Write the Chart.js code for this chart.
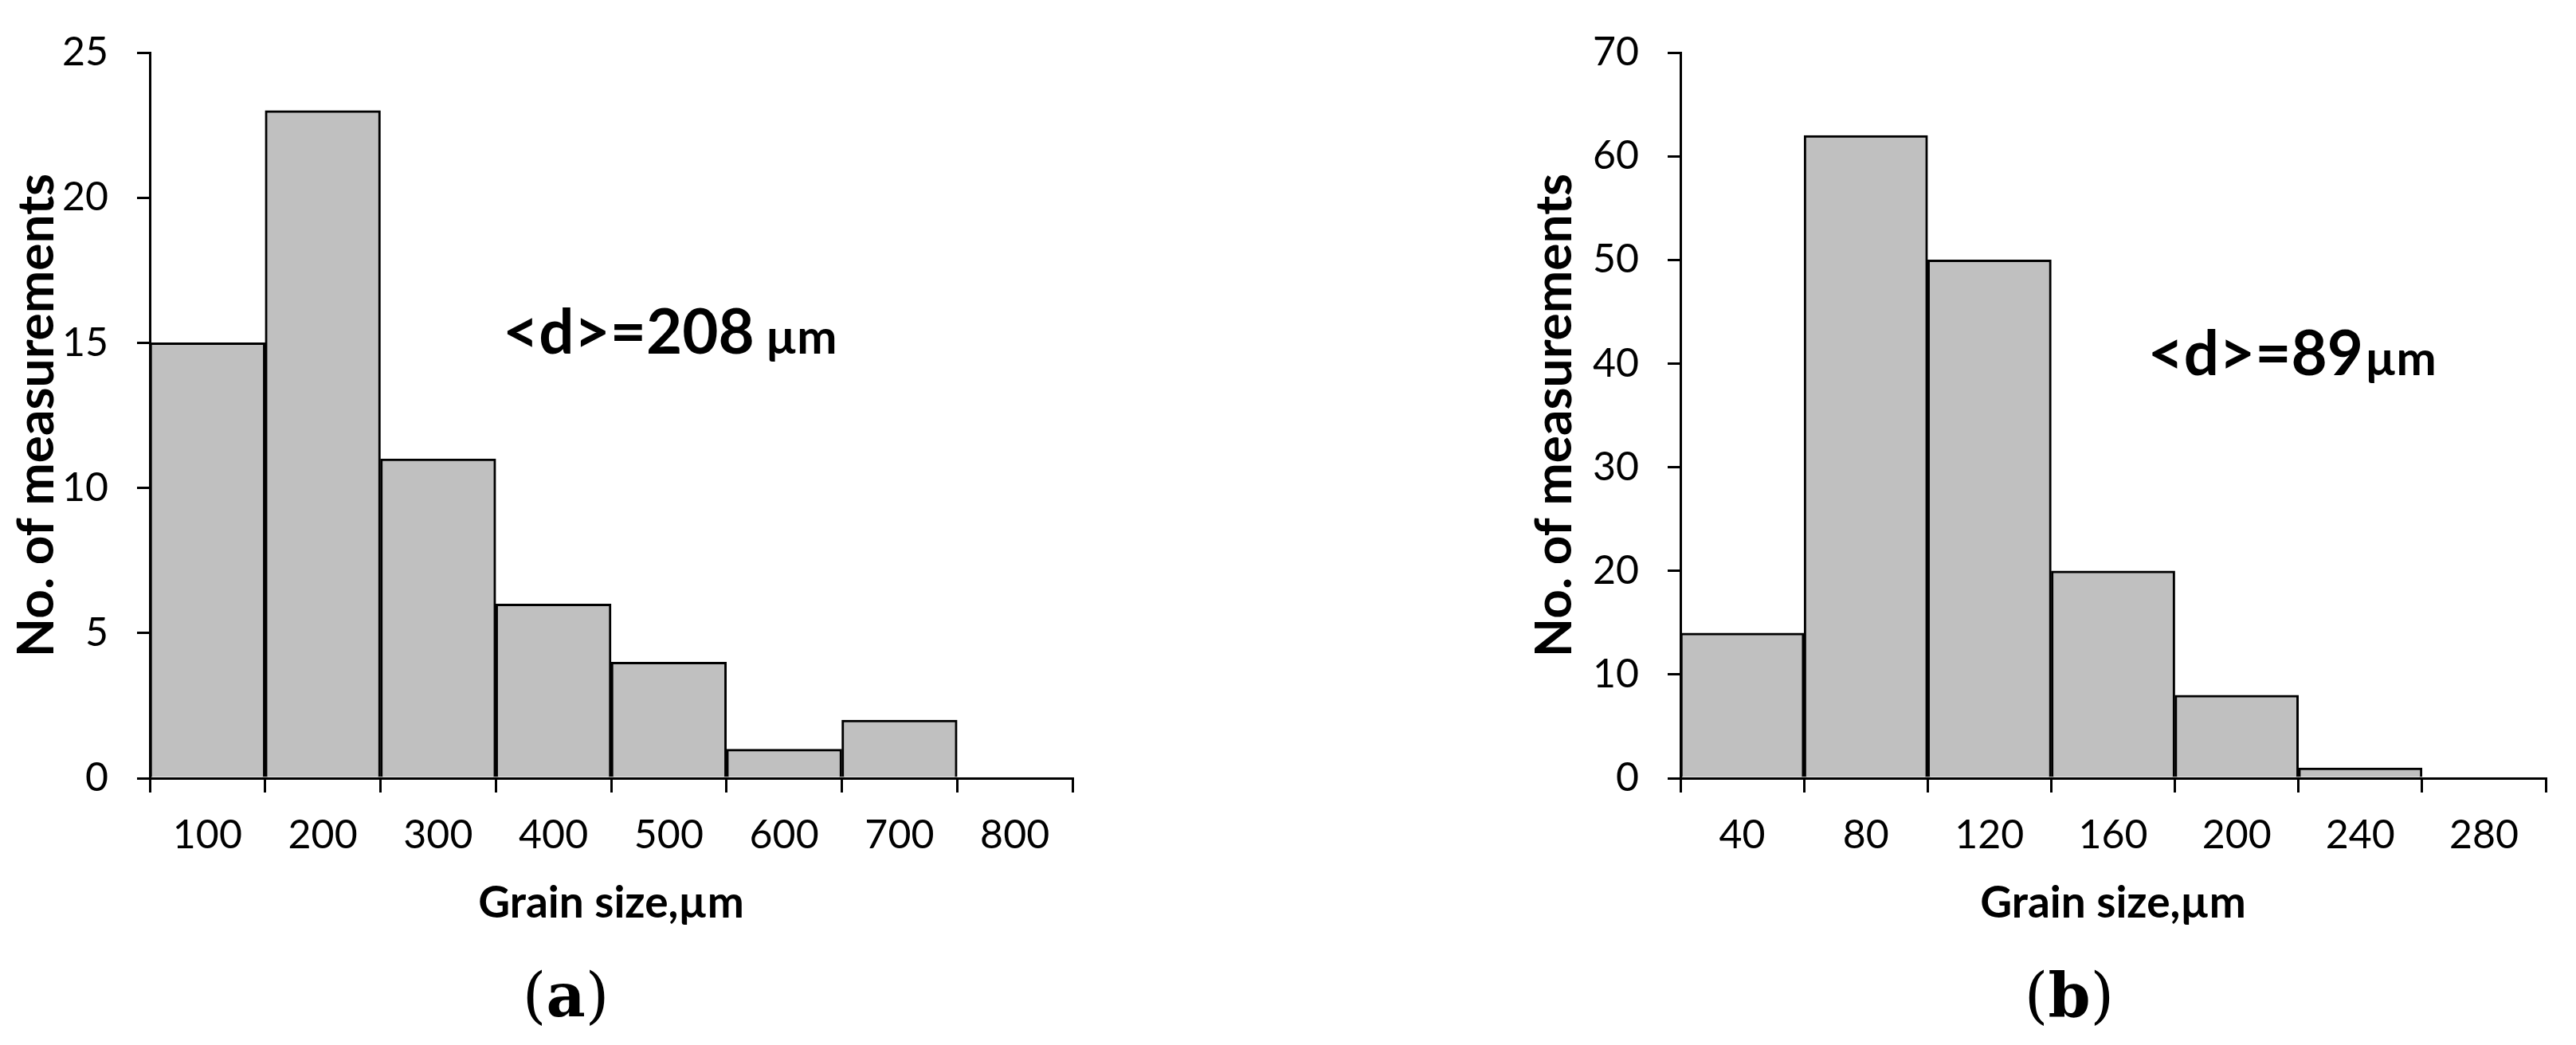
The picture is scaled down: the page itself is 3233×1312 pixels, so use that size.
<!DOCTYPE html>
<html>
<head>
<meta charset="utf-8">
<script src="https://cdn.jsdelivr.net/npm/chart.js@4/dist/chart.umd.min.js"></script>
<style>
  body { margin: 0; width: 3233px; height: 1312px; background: #fff; position: relative; overflow: hidden; }
  canvas { position: absolute; top: 0; }
  .lbl { position: absolute; top: 1205px; line-height: 100px; font: 76px "DejaVu Serif", "Liberation Serif", serif; transform: translateX(-50%); }
  .lbl b { font-weight: bold; }
</style>
</head>
<body>
<canvas id="chartA" width="1400" height="1312" style="left:0"></canvas>
<canvas id="chartB" width="1328" height="1312" style="left:1905px"></canvas>
<div class="lbl" style="left:710px">(<b>a</b>)</div>
<div class="lbl" style="left:2597px">(<b>b</b>)</div>
<script>
// Panel (a)
const labelsA = ["100", "200", "300", "400", "500", "600", "700", "800"];
const countsA = [15, 23, 11, 6, 4, 1, 2, 0];
// Panel (b)
const labelsB = ["40", "80", "120", "160", "200", "240", "280"];
const countsB = [14, 62, 50, 20, 8, 1, 0];

const FONT = "Lato, 'Open Sans', sans-serif";

const meanText = {
  id: "meanText",
  afterDatasetsDraw(chart, args, opts) {
    const { ctx, scales } = chart;
    const x = scales.x.getPixelForValue(opts.at[0]);
    const y = scales.y.getPixelForValue(opts.at[1]);
    ctx.save();
    ctx.fillStyle = "#000";
    ctx.textBaseline = "alphabetic";
    ctx.font = "bold 78px " + FONT;
    ctx.fillText(opts.main, x, y + 28);
    const w = ctx.measureText(opts.main).width;
    ctx.font = "bold 60px " + FONT;
    ctx.fillText(opts.unit, x + w + opts.gap, y + 28);
    ctx.restore();
  }
};

function makeChart(id, labels, counts, yMax, yStep, yAxisW, padRight, note) {
  return new Chart(document.getElementById(id), {
    type: "bar",
    data: {
      labels,
      datasets: [{
        data: counts,
        backgroundColor: "#c0c0c0",
        borderColor: "#000",
        borderWidth: 3,
        barPercentage: 1,
        categoryPercentage: 1
      }]
    },
    options: {
      responsive: false,
      devicePixelRatio: 1,
      animation: false,
      layout: { padding: { top: 54, right: padRight, bottom: 145, left: 0 } },
      plugins: { legend: { display: false }, tooltip: { enabled: false }, meanText: note },
      scales: {
        x: {
          grid: { drawOnChartArea: false, color: "#000", lineWidth: 3, tickLength: 18 },
          border: { color: "#000", width: 3 },
          ticks: { color: "#000", font: { family: FONT, size: 50 }, padding: 24 },
          title: { display: true, text: "Grain size,µm", color: "#000", padding: { top: 0, bottom: 0 },
                   font: { family: FONT, size: 55, weight: "bold" } },
          afterFit(s) { s.height = 190; }
        },
        y: {
          min: 0, max: yMax,
          grid: { drawOnChartArea: false, color: "#000", lineWidth: 3, tickLength: 16 },
          border: { color: "#000", width: 3 },
          ticks: { stepSize: yStep, color: "#000", font: { family: FONT, size: 50 }, padding: 36 },
          title: { display: true, text: "No. of measurements", color: "#000", padding: { top: 8, bottom: 0 },
                   font: { family: FONT, size: 64, weight: "bold" } },
          afterFit(s) { s.width = yAxisW; }
        }
      }
    },
    plugins: [meanText]
  });
}

makeChart("chartA", labelsA, countsA, 25, 5, 188, 54,
  { at: [2.56, 15.4], main: "<d>=208", unit: "µm", gap: 14 });
makeChart("chartB", labelsB, countsB, 70, 10, 204, 38,
  { at: [3.28, 41], main: "<d>=89", unit: "µm", gap: 2 });
</script>
</body>
</html>
